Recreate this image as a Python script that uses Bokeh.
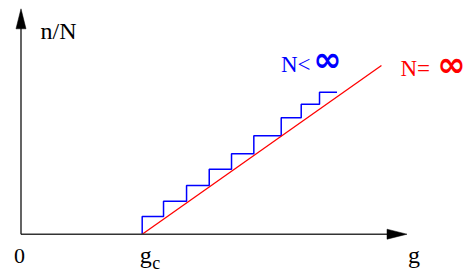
from bokeh.plotting import figure
from bokeh.models import Range1d, Label
from bokeh.embed import file_html
from bokeh.resources import INLINE

# ---- data (g in units of g_c, n/N fraction) ----
g_c = 1.0
step_edges_g = [1.0, 1.176, 1.366, 1.553, 1.737, 1.921, 2.147, 2.312, 2.463, 2.607]
step_levels_n = [0.0885, 0.165, 0.2435, 0.325, 0.402, 0.492, 0.582, 0.65, 0.71]
inf_line_g = [1.0, 2.974]
inf_line_n = [0.0, 0.8435]
g_axis_end = 3.185
n_axis_end = 1.127
tick_labels = ["0", "g", "c", "g"]
label_finite = "N<"
label_infinite = "N="
infinity = "\u221e"
y_title = "n/N"

W, H = 472, 272
x0, x1 = -0.1691, 3.7252
y0, y1 = -0.1915, 1.1685
sx = W / (x1 - x0)   # px per unit g
sy = H / (y1 - y0)   # px per unit n/N

p = figure(width=W, height=H, output_backend="svg", toolbar_location=None,
           x_range=Range1d(x0, x1), y_range=Range1d(y0, y1),
           min_border=0, min_border_left=0, min_border_right=0,
           min_border_top=0, min_border_bottom=0)
p.axis.visible = False
p.grid.visible = False
p.outline_line_color = None
p.background_fill_color = "white"
p.border_fill_color = "white"

# staircase (finite N)
xs = [step_edges_g[0]]
ys = [0.0]
for i, lvl in enumerate(step_levels_n):
    xs += [step_edges_g[i], step_edges_g[i + 1]]
    ys += [lvl, lvl]
p.line(xs, ys, line_color="#0000ff", line_width=1.5)

# infinite N line
p.line(inf_line_g, inf_line_n, line_color="#ff0000", line_width=1.3)

# axes
p.line([0, g_axis_end - 15 / sx], [0, 0], line_color="#333333", line_width=1.6)
p.line([0, 0], [0, n_axis_end - 15 / sy], line_color="#111111", line_width=1.3)
hl, hw = 20, 5
p.patch([g_axis_end, g_axis_end - hl / sx, g_axis_end - hl / sx],
        [0, hw / sy, -hw / sy], fill_color="black", line_color="black", line_width=0.5)
p.patch([0, -hw / sx, hw / sx],
        [n_axis_end, n_axis_end - hl / sy, n_axis_end - hl / sy],
        fill_color="black", line_color="black", line_width=0.5)

serif = "Liberation Serif"
DY = 7.5  # correction for alphabetic baseline placement

def lab(x, y, text, color="black", size="22px", align="left", baseline="alphabetic",
        font=serif, style="normal", xo=0, yo=0):
    if baseline == "alphabetic":
        yo += DY
    p.add_layout(Label(x=x, y=y, x_offset=xo, y_offset=yo, text=text, text_color=color,
                       text_font=font, text_font_size=size, text_align=align,
                       text_baseline=baseline, text_font_style=style))

# axis labels
lab(0, n_axis_end, y_title, xo=19.5, yo=-30, size="24px")
lab(0, 0, tick_labels[0], align="center", xo=-1.5, yo=-29.5, size="22px")
lab(g_c, 0, tick_labels[1], align="center", xo=3.5, yo=-28.5, size="24px")
lab(g_c, 0, tick_labels[2], align="left", xo=10, yo=-36.5, size="18px")
lab(g_axis_end, 0, tick_labels[3], align="center", xo=7, yo=-28.5, size="24px")

# series labels
lab(step_edges_g[-1], step_levels_n[-1], label_finite, color="#0000ff", size="23px",
    xo=-56, yo=20.5)
lab(step_edges_g[-1], step_levels_n[-1], infinity, color="#0000ff", size="34px",
    font="DejaVu Sans", style="bold", align="center", baseline="middle", xo=-9.5, yo=33)
lab(inf_line_g[-1], inf_line_n[-1], label_infinite, color="#ff0000",
    size="23px", xo=19, yo=-10)
lab(inf_line_g[-1], inf_line_n[-1], infinity, color="#ff0000", size="34px",
    font="DejaVu Sans", style="bold", align="center", baseline="middle", xo=70, yo=2)

open("out.html", "w").write(file_html(p, INLINE))
